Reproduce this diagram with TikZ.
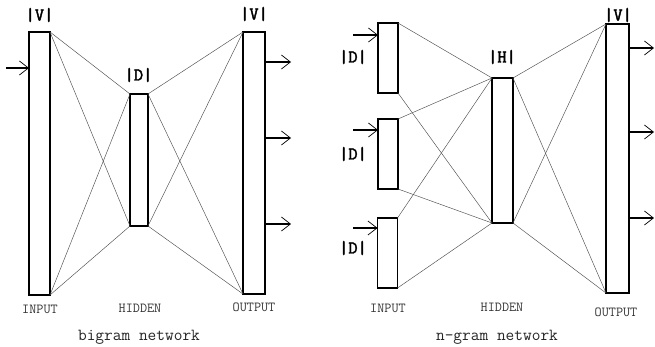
\documentclass[tikz,border=0pt]{standalone}
\usepackage{fontspec}
\newfontfamily\heavymono{Latin Modern Mono}[FakeBold=2.2]
\usetikzlibrary{arrows.meta}
\tikzset{
  layer/.style={draw, fill=white, line width=1.2pt, inner sep=0pt, outer sep=0pt},
  link/.style={draw=black!70, line width=0.45pt},
  io/.style={line width=1.5pt, -{Straight Barb[length=9pt,width=14pt,line width=0.7pt]}},
  size/.style={font=\heavymono\fontsize{18}{18}\selectfont, inner sep=0pt},
  role/.style={font=\ttfamily\fontsize{13.8}{14}\selectfont, text=black!80, inner sep=0pt},
  title/.style={font=\ttfamily\fontsize{16.9}{17}\selectfont, text=black!85, inner sep=0pt}
}
\begin{document}
\begin{tikzpicture}[x=1pt,y=-1pt]
\useasboundingbox (0,0) rectangle (655,347);

% ---------- bigram network ----------
\node[layer, minimum width=21pt, minimum height=263pt] (inL)  at (39.5,163.5) {};
\node[layer, minimum width=18pt, minimum height=132pt] (hidL) at (139,160) {};
\node[layer, minimum width=22pt, minimum height=262pt] (outL) at (254,163) {};

\foreach \a in {north east, south east}
  \foreach \b in {north west, south west}
    \draw[link] (inL.\a) -- (hidL.\b);
\foreach \a in {north east, south east}
  \foreach \b in {north west, south west}
    \draw[link] (hidL.\a) -- (outL.\b);

\coordinate (inLsrc) at (6,68);
\draw[io] (inLsrc) -- (inLsrc -| inL.west);
\foreach \y/\n in {62/1,138/2,224/3} {
  \coordinate (outLend\n) at (291,\y);
  \draw[io] (outLend\n -| outL.east) -- (outLend\n);
}

\node[size] (vInL)  at (39.5,15) {|V|};
\node[size] (dHidL) at (138.5,75) {|D|};
\node[size] (vOutL) at (254,14) {|V|};
\node[role] (tInL)  at (40,309) {INPUT};
\node[role] (tHidL) at (140,308) {HIDDEN};
\node[role] (tOutL) at (254,307) {OUTPUT};
\node[title] (capL) at (139,337) {bigram network};

% ---------- n-gram network ----------
\node[layer, minimum width=20pt, minimum height=70pt] (in1) at (388,58) {};
\node[layer, minimum width=20pt, minimum height=70pt] (in2) at (388,154) {};
\node[layer, minimum width=20pt, minimum height=70pt] (in3) at (387.5,253) {};
\node[layer, minimum width=21pt, minimum height=145pt] (hidR) at (502.5,150.5) {};
\node[layer, minimum width=23pt, minimum height=269pt] (outR) at (617.5,158.5) {};

\foreach \i in {in1,in2,in3} {
  \draw[link] (\i.north east) -- (hidR.north west);
  \draw[link] (\i.south east) -- (hidR.south west);
}
\foreach \a in {north east, south east}
  \foreach \b in {north west, south west}
    \draw[link] (hidR.\a) -- (outR.\b);

\foreach \y/\n/\b in {35/1/in1,130/2/in2,228/3/in3} {
  \coordinate (inRsrc\n) at (353,\y);
  \draw[io] (inRsrc\n) -- (inRsrc\n -| \b.west);
}
\foreach \y/\n in {48/1,132/2,218/3} {
  \coordinate (outRend\n) at (654,\y);
  \draw[io] (outRend\n -| outR.east) -- (outRend\n);
}

\node[size] (dIn1) at (353,57) {|D|};
\node[size] (dIn2) at (353,154) {|D|};
\node[size] (dIn3) at (353,248) {|D|};
\node[size] (hHidR) at (502,57) {|H|};
\node[size] (vOutR) at (618,15) {|V|};
\node[role] (tInR)  at (388,308) {INPUT};
\node[role] (tHidR) at (502,307) {HIDDEN};
\node[role] (tOutR) at (616,312) {OUTPUT};
\node[title] (capR) at (497,337) {n-gram network};
\end{tikzpicture}
\end{document}
